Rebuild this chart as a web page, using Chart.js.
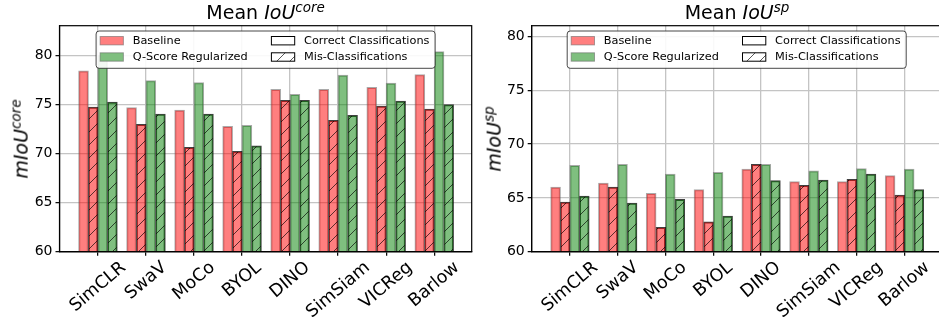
<!DOCTYPE html>
<html>
<head>
<meta charset="utf-8">
<script src="https://cdn.jsdelivr.net/npm/chart.js@4.4.1/dist/chart.umd.min.js"></script>
<style>
  html, body { margin: 0; padding: 0; background: #fff; overflow: hidden; }
  body { width: 939px; height: 323px; position: relative; font-family: "DejaVu Sans", sans-serif; color: #000; }
  .panel { position: absolute; top: 0; width: 476px; height: 323px; }
  .title { position: absolute; top: 1px; font-size: 19px; line-height: 22.8px; white-space: nowrap; transform: translateX(-50%); }
  .ylab { position: absolute; font-size: 19px; line-height: 22.8px; white-space: nowrap; transform: translate(-50%, -50%) rotate(-90deg); }
  .sup { position: relative; top: -7px; font-size: 13.5px; }
</style>
</head>
<body>
<div class="panel" style="left:0"><canvas id="coreChart"></canvas></div>
<div class="panel" style="left:470px"><canvas id="spChart"></canvas></div>
<div class="title" style="left:265.6px">Mean <i>IoU<span class="sup">core</span></i></div>
<div class="title" style="left:737px">Mean <i>IoU<span class="sup">sp</span></i></div>
<div class="ylab" style="left:21.7px; top:138.7px"><i>mIoU<span class="sup">core</span></i></div>
<div class="ylab" style="left:495px; top:138.7px"><i>mIoU<span class="sup">sp</span></i></div>
<script>
const methods = ["SimCLR", "SwaV", "MoCo", "BYOL", "DINO", "SimSiam", "VICReg", "Barlow"];
const seriesLabels = ["Baseline", "Q-Score Regularized"];
const splitLabels = ["Correct Classifications", "Mis-Classifications"];

// mean IoU core
const coreBaselineCorrect = [78.4, 74.65, 74.4, 72.75, 76.5, 76.5, 76.7, 78.0];
const coreBaselineMis = [74.7, 72.95, 70.6, 70.2, 75.4, 73.35, 74.8, 74.5];
const coreQScoreCorrect = [80.0, 77.4, 77.2, 72.85, 76.0, 77.95, 77.15, 80.35];
const coreQScoreMis = [75.2, 74.0, 74.0, 70.75, 75.4, 73.85, 75.3, 74.95];

// mean IoU sp
const spBaselineCorrect = [66.0, 66.35, 65.4, 65.75, 67.65, 66.5, 66.5, 67.05];
const spBaselineMis = [64.6, 66.0, 62.25, 62.75, 68.1, 66.15, 66.7, 65.25];
const spQScoreCorrect = [68.0, 68.1, 67.2, 67.35, 68.1, 67.5, 67.7, 67.65];
const spQScoreMis = [65.15, 64.5, 64.85, 63.3, 66.6, 66.65, 67.2, 65.75];

const yTicks = [60, 65, 70, 75, 80];

(function () {
  const RED = "rgba(255,0,0,0.5)";
  const GREEN = "rgba(0,128,0,0.5)";
  const EDGE = "rgba(100,100,100,0.55)";
  const HATCH_EDGE = "rgba(0,0,0,0.75)";

  Chart.defaults.font.family = "'DejaVu Sans', sans-serif";
  Chart.defaults.color = "#000";

  function hatch(ctx, fill) {
    const s = 13;
    const c = document.createElement("canvas");
    c.width = s;
    c.height = s;
    const g = c.getContext("2d");
    g.fillStyle = fill;
    g.fillRect(0, 0, s, s);
    g.strokeStyle = "rgba(0,0,0,0.65)";
    g.lineWidth = 1;
    g.beginPath();
    g.moveTo(0, s); g.lineTo(s, 0);
    g.moveTo(-2, 2); g.lineTo(2, -2);
    g.moveTo(s - 2, s + 2); g.lineTo(s + 2, s - 2);
    g.stroke();
    return ctx.createPattern(c, "repeat");
  }

  function points(values) {
    return values.map((v, i) => ({ x: i, y: v }));
  }

  // frame, rotated category labels and the legend box
  const extras = {
    id: "extras",
    afterDraw(chart) {
      const { ctx, chartArea: a, scales } = chart;
      ctx.save();
      ctx.strokeStyle = "#000";
      ctx.lineWidth = 1.2;
      ctx.strokeRect(a.left, a.top, a.right - a.left, a.bottom - a.top);

      const ang = 40 * Math.PI / 180;
      ctx.font = "17.5px 'DejaVu Sans'";
      ctx.fillStyle = "#000";
      ctx.textAlign = "center";
      ctx.textBaseline = "middle";
      methods.forEach((m, i) => {
        const px = scales.x.getPixelForValue(i);
        const w = ctx.measureText(m).width;
        const bh = w * Math.sin(ang) + 17.5 * Math.cos(ang);
        ctx.save();
        ctx.translate(px, a.bottom + 7 + bh / 2);
        ctx.rotate(-ang);
        ctx.fillText(m, 0, 0);
        ctx.restore();
      });

      const bw = 339, bhh = 37.3;
      const lx = (a.left + a.right) / 2 - bw / 2;
      const ly = a.top + 5.3;
      ctx.beginPath();
      ctx.roundRect(lx, ly, bw, bhh, 3);
      ctx.fillStyle = "rgba(255,255,255,0.9)";
      ctx.fill();
      ctx.strokeStyle = "rgba(40,40,40,0.85)";
      ctx.lineWidth = 1;
      ctx.stroke();

      const rows = [ly + 9.7, ly + 26];
      const cols = [lx + 4, lx + 175.3];
      const patches = [
        [RED, EDGE], [GREEN, EDGE],
        ["#fff", "#000"], [chart.$hatchWhite, "#000"]
      ];
      const texts = [seriesLabels[0], seriesLabels[1], splitLabels[0], splitLabels[1]];
      ctx.font = "11.3px 'DejaVu Sans'";
      ctx.textAlign = "left";
      ctx.textBaseline = "middle";
      texts.forEach((t, k) => {
        const cx = cols[Math.floor(k / 2)];
        const cy = rows[k % 2];
        ctx.fillStyle = "#fff";
        ctx.fillRect(cx, cy - 4.2, 23.3, 8.4);
        ctx.fillStyle = patches[k][0];
        ctx.fillRect(cx, cy - 4.2, 23.3, 8.4);
        ctx.strokeStyle = patches[k][1];
        ctx.lineWidth = 1;
        ctx.strokeRect(cx, cy - 4.2, 23.3, 8.4);
        ctx.fillStyle = "#000";
        ctx.fillText(t, cx + 32.6, cy + 0.5);
      });
      ctx.restore();
    }
  };

  function makeChart(id, yMax, yAxisWidth, sets) {
    const canvas = document.getElementById(id);
    const ctx = canvas.getContext("2d");
    const redHatch = hatch(ctx, RED);
    const greenHatch = hatch(ctx, GREEN);
    const chart = new Chart(canvas, {
      type: "bar",
      data: {
        datasets: [
          { label: seriesLabels[0], data: points(sets[0]), backgroundColor: RED, borderColor: EDGE, borderWidth: 1 },
          { label: seriesLabels[0], data: points(sets[1]), backgroundColor: redHatch, borderColor: HATCH_EDGE, borderWidth: 1 },
          { label: seriesLabels[1], data: points(sets[2]), backgroundColor: GREEN, borderColor: EDGE, borderWidth: 1 },
          { label: seriesLabels[1], data: points(sets[3]), backgroundColor: greenHatch, borderColor: HATCH_EDGE, borderWidth: 1 },
        ],
      },
      options: {
        responsive: true,
        maintainAspectRatio: false,
        animation: false,
        events: [],
        layout: { padding: { top: 25.7, right: 4.3, bottom: 11.3, left: 0 } },
        datasets: { bar: { categoryPercentage: 0.8, barPercentage: 1, inflateAmount: 0.5 } },
        plugins: { legend: { display: false }, tooltip: { enabled: false } },
        scales: {
          x: {
            type: "linear",
            offset: false,
            min: -0.8,
            max: 7.78,
            afterFit: (s) => { s.height = 60; },
            ticks: { stepSize: 1, includeBounds: false, display: false },
            grid: { offset: false, color: "#c4c4c4", lineWidth: 1.3, tickColor: "#000", tickLength: 4, tickWidth: 1.2 },
            border: { color: "#000", width: 1.2 },
          },
          y: {
            min: yTicks[0],
            max: yMax,
            afterFit: (s) => { s.width = yAxisWidth; },
            afterBuildTicks: (s) => { s.ticks = yTicks.map((v) => ({ value: v })); },
            ticks: { font: { size: 14 }, padding: 3, color: "#000" },
            grid: { color: "#c4c4c4", lineWidth: 1.3, tickColor: "#000", tickLength: 4, tickWidth: 1.2 },
            border: { color: "#000", width: 1.2 },
          },
        },
      },
      plugins: [extras],
    });
    chart.$hatchWhite = hatch(ctx, "#fff");
    chart.draw();
    return chart;
  }

  function init() {
    makeChart("coreChart", 83, 59.5,
      [coreBaselineCorrect, coreBaselineMis, coreQScoreCorrect, coreQScoreMis]);
    makeChart("spChart", 81, 61.7,
      [spBaselineCorrect, spBaselineMis, spQScoreCorrect, spQScoreMis]);
  }

  if (document.readyState === "loading")
    document.addEventListener("DOMContentLoaded", init);
  else init();
})();
</script>
</body>
</html>
